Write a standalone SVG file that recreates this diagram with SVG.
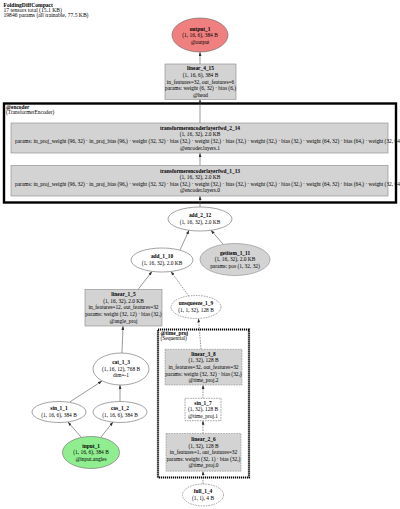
<svg xmlns="http://www.w3.org/2000/svg" width="400" height="509" viewBox="0 0 400 509">
<style>
text{font-family:"Liberation Serif","Times New Roman",serif;font-size:5.4px;fill:#000;text-anchor:middle}
.b{font-weight:bold}
.l{text-anchor:start}
.op{fill:#d3d3d3;stroke:#888;stroke-width:0.6}
.tn{fill:#fff;stroke:#666;stroke-width:0.6}
.dsh{stroke-dasharray:1.6 1}
.e{stroke:#555;stroke-width:0.6;fill:none;marker-end:url(#ah)}
.hd{font-size:5.6px}
</style>
<defs>
<marker id="ah" markerUnits="userSpaceOnUse" markerWidth="4" markerHeight="3" refX="4" refY="1.5" orient="auto"><path d="M0,0 L4,1.5 L0,3 z" fill="#333"/></marker>
</defs>
<rect width="400" height="509" fill="#fff"/>
<g id="header">
<text class="hd b l" x="3.5" y="6.5">FoldingDiffCompact</text>
<text class="hd l" x="3.5" y="11.8">17 tensors total (15.1 KB)</text>
<text class="hd l" x="3.5" y="17.1">19846 params (all trainable, 77.5 KB)</text>
</g>
<g id="cluster_encoder">
<rect x="4" y="103.5" width="392" height="99" fill="none" stroke="#000" stroke-width="2.4"/>
<text class="b l" x="6" y="108.5">@encoder</text>
<text class="l" x="6" y="113.5">(TransformerEncoder)</text>
</g>
<g id="cluster_time_proj">
<rect x="158" y="329.5" width="91" height="148" fill="none" stroke="#000" stroke-width="2.2" stroke-dasharray="1.2 0.8"/>
<text class="b l" x="160.5" y="335">@time_proj</text>
<text class="l" x="160.5" y="340">(Sequential)</text>
</g>
<g id="edges">
<line class="e" x1="200" y1="64" x2="200" y2="52"/>
<line class="e" x1="200" y1="123" x2="200" y2="99.3"/>
<line class="e" x1="200" y1="165.5" x2="200" y2="153"/>
<line class="e" x1="200" y1="207" x2="200" y2="196"/>
<line class="e" x1="180" y1="250" x2="189" y2="230.3"/>
<line class="e" x1="223" y1="244" x2="211" y2="230.3"/>
<line class="e" x1="138" y1="289.5" x2="152" y2="271.5"/>
<line class="e dsh" x1="189" y1="296.5" x2="171" y2="271.5"/>
<line class="e dsh" x1="201" y1="349.3" x2="198.5" y2="318.5"/>
<line class="e dsh" x1="203" y1="398.3" x2="203" y2="385"/>
<line class="e dsh" x1="203" y1="433.5" x2="203" y2="420.7"/>
<line class="e dsh" x1="203" y1="484" x2="203" y2="471.2"/>
<line class="e" x1="122" y1="353" x2="123" y2="326"/>
<line class="e" x1="70" y1="401.8" x2="102" y2="381"/>
<line class="e" x1="120" y1="401.5" x2="120" y2="385"/>
<line class="e" x1="81" y1="437" x2="68" y2="422"/>
<line class="e" x1="101" y1="437" x2="113" y2="422"/>
</g>
<g id="output_1">
<ellipse cx="200" cy="35" rx="28" ry="17" fill="#f08080" stroke="#666" stroke-width="0.6"/>
<text class="b" x="200" y="30.5">output_1</text>
<text x="200" y="37.1">(1, 16, 6), 384 B</text>
<text x="200" y="43.7">@output</text>
</g>
<g id="linear_4_15">
<rect class="op" x="165" y="64" width="71" height="35.3"/>
<text class="b" x="200.5" y="70.3">linear_4_15</text>
<text x="200.5" y="76.9">(1, 16, 6), 384 B</text>
<text x="200.5" y="83.5">in_features=32, out_features=6</text>
<text x="200.5" y="90.1">params: weight (6, 32) · bias (6,)</text>
<text x="200.5" y="96.7">@head</text>
</g>
<g id="transformerencoderlayerfwd_2_14">
<rect class="op" x="11" y="123" width="377" height="30"/>
<text class="b" x="200" y="129.8">transformerencoderlayerfwd_2_14</text>
<text x="200" y="136.4">(1, 16, 32), 2.0 KB</text>
<text class="l" x="15" y="143">params: in_proj_weight (96, 32) · in_proj_bias (96,) · weight (32, 32) · bias (32,) · weight (32,) · bias (32,) · weight (32,) · bias (32,) · weight (64, 32) · bias (64,) · weight (32, 64) · bias (32,)</text>
<text x="200" y="149.6">@encoder.layers.1</text>
</g>
<g id="transformerencoderlayerfwd_1_13">
<rect class="op" x="11" y="165.5" width="377" height="30.5"/>
<text class="b" x="200" y="172.5">transformerencoderlayerfwd_1_13</text>
<text x="200" y="179.1">(1, 16, 32), 2.0 KB</text>
<text class="l" x="15" y="185.7">params: in_proj_weight (96, 32) · in_proj_bias (96,) · weight (32, 32) · bias (32,) · weight (32,) · bias (32,) · weight (32,) · bias (32,) · weight (64, 32) · bias (64,) · weight (32, 64) · bias (32,)</text>
<text x="200" y="192.3">@encoder.layers.0</text>
</g>
<g id="add_2_12">
<ellipse class="tn" cx="200" cy="219" rx="32" ry="12"/>
<text class="b" x="200" y="217.4">add_2_12</text>
<text x="200" y="224">(1, 16, 32), 2.0 KB</text>
</g>
<g id="add_1_10">
<ellipse class="tn" cx="162" cy="260" rx="31" ry="12"/>
<text class="b" x="162" y="258.4">add_1_10</text>
<text x="162" y="265">(1, 16, 32), 2.0 KB</text>
</g>
<g id="getitem_1_11">
<ellipse class="op" cx="235" cy="259.5" rx="35" ry="16" stroke="#666"/>
<text class="b" x="235" y="254.6">getitem_1_11</text>
<text x="235" y="261.2">(1, 16, 32), 2.0 KB</text>
<text x="235" y="267.8">params: pos (1, 32, 32)</text>
</g>
<g id="linear_1_5">
<rect class="op" x="85" y="289.5" width="77" height="36.5"/>
<text class="b" x="123.5" y="296.2">linear_1_5</text>
<text x="123.5" y="302.8">(1, 16, 32), 2.0 KB</text>
<text x="123.5" y="309.4">in_features=12, out_features=32</text>
<text x="123.5" y="316">params: weight (32, 12) · bias (32,)</text>
<text x="123.5" y="322.6">@angle_proj</text>
</g>
<g id="unsqueeze_1_9">
<ellipse class="tn dsh" cx="196" cy="307" rx="25" ry="11.5"/>
<text class="b" x="196" y="305.4">unsqueeze_1_9</text>
<text x="196" y="312">(1, 1, 32), 128 B</text>
</g>
<g id="linear_3_8">
<rect class="op dsh" x="165" y="349.3" width="77" height="35.7"/>
<text class="b" x="203.5" y="355.7">linear_3_8</text>
<text x="203.5" y="362.3">(1, 32), 128 B</text>
<text x="203.5" y="368.9">in_features=32, out_features=32</text>
<text x="203.5" y="375.5">params: weight (32, 32) · bias (32,)</text>
<text x="203.5" y="382.1">@time_proj.2</text>
</g>
<g id="sin_1_7">
<rect class="tn dsh" x="185" y="398.3" width="36" height="22.4"/>
<text class="b" x="203" y="404.6">sin_1_7</text>
<text x="203" y="411.2">(1, 32), 128 B</text>
<text x="203" y="417.8">@time_proj.1</text>
</g>
<g id="linear_2_6">
<rect class="op dsh" x="166" y="433.5" width="75" height="37.7"/>
<text class="b" x="203.5" y="440.9">linear_2_6</text>
<text x="203.5" y="447.5">(1, 32), 128 B</text>
<text x="203.5" y="454.1">in_features=1, out_features=32</text>
<text x="203.5" y="460.7">params: weight (32, 1) · bias (32,)</text>
<text x="203.5" y="467.3">@time_proj.0</text>
</g>
<g id="full_1_4">
<ellipse class="tn dsh" cx="203" cy="495" rx="20.5" ry="11"/>
<text class="b" x="203" y="493.4">full_1_4</text>
<text x="203" y="500">(1, 1), 4 B</text>
</g>
<g id="cat_1_3">
<ellipse class="tn" cx="121" cy="369" rx="28" ry="16"/>
<text class="b" x="121" y="364.1">cat_1_3</text>
<text x="121" y="370.7">(1, 16, 12), 768 B</text>
<text x="121" y="377.3">dim=-1</text>
</g>
<g id="sin_1_1">
<ellipse class="tn" cx="59" cy="412" rx="27" ry="10.5"/>
<text class="b" x="59" y="410.4">sin_1_1</text>
<text x="59" y="417">(1, 16, 6), 384 B</text>
</g>
<g id="cos_1_2">
<ellipse class="tn" cx="120" cy="412" rx="27" ry="10.5"/>
<text class="b" x="120" y="410.4">cos_1_2</text>
<text x="120" y="417">(1, 16, 6), 384 B</text>
</g>
<g id="input_1">
<ellipse cx="91" cy="452.5" rx="28.5" ry="16" fill="#90ee90" stroke="#666" stroke-width="0.6"/>
<text class="b" x="91" y="447.6">input_1</text>
<text x="91" y="454.2">(1, 16, 6), 384 B</text>
<text x="91" y="460.8">@input.angles</text>
</g>
</svg>
